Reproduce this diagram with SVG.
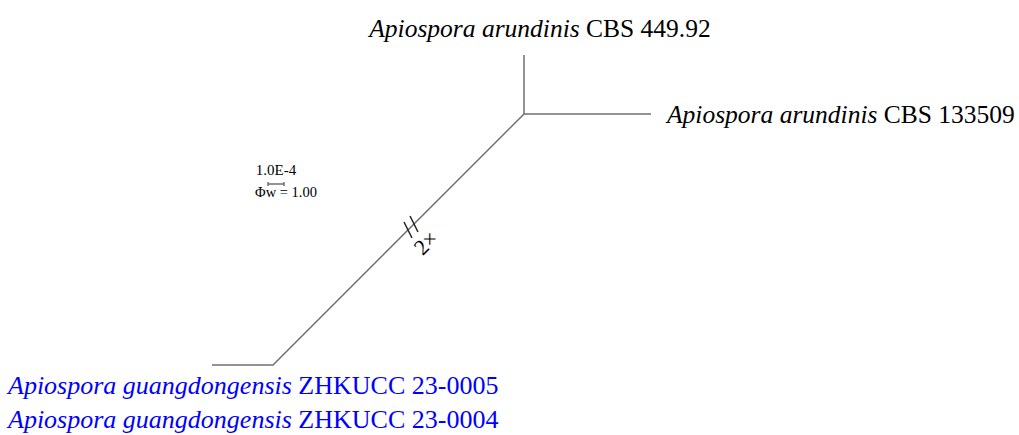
<svg xmlns="http://www.w3.org/2000/svg" width="1019" height="435" viewBox="0 0 1019 435">
<style>
.br{stroke:#707070;stroke-width:1.5;fill:none}
.mk{stroke:#222;stroke-width:1.5;fill:none}
.t{font-family:"Liberation Serif",serif;font-size:25.5px;fill:#000}
.b{fill:#0000ff;font-size:26px}
.s{font-family:"Liberation Serif",serif;fill:#000}
</style>
<rect width="1019" height="435" fill="#fff"/>
<g id="connectors">
<path class="br" d="M524,55 V114 H651"/>
<path class="br" d="M524,114 L273,365 H212"/>
<path class="mk" d="M404,222 L412,238 M410,216 L418,232"/>
<path class="br" d="M268,184 H284 M268,182 V186 M284,182 V186" stroke-width="1"/>
</g>
<g id="node-cbs44992"><text class="t" x="540" y="37" text-anchor="middle"><tspan font-style="italic">Apiospora arundinis</tspan> CBS 449.92</text></g>
<g id="node-cbs133509"><text class="t" x="667" y="123"><tspan font-style="italic">Apiospora arundinis</tspan> CBS 133509</text></g>
<g id="node-zhkucc0005"><text class="t b" x="8" y="394"><tspan font-style="italic">Apiospora guangdongensis</tspan> ZHKUCC 23-0005</text></g>
<g id="node-zhkucc0004"><text class="t b" x="8" y="428"><tspan font-style="italic">Apiospora guangdongensis</tspan> ZHKUCC 23-0004</text></g>
<g id="scale">
<text class="s" x="276" y="175" text-anchor="middle" style="font-size:15px">1.0E-4</text>
<text class="s" x="286" y="197" text-anchor="middle" style="font-size:14.5px">Φw = 1.00</text>
</g>
<g id="break-label"><text class="s" style="font-size:22px" transform="translate(431,248) rotate(-45)" text-anchor="middle">2×</text></g>
</svg>
